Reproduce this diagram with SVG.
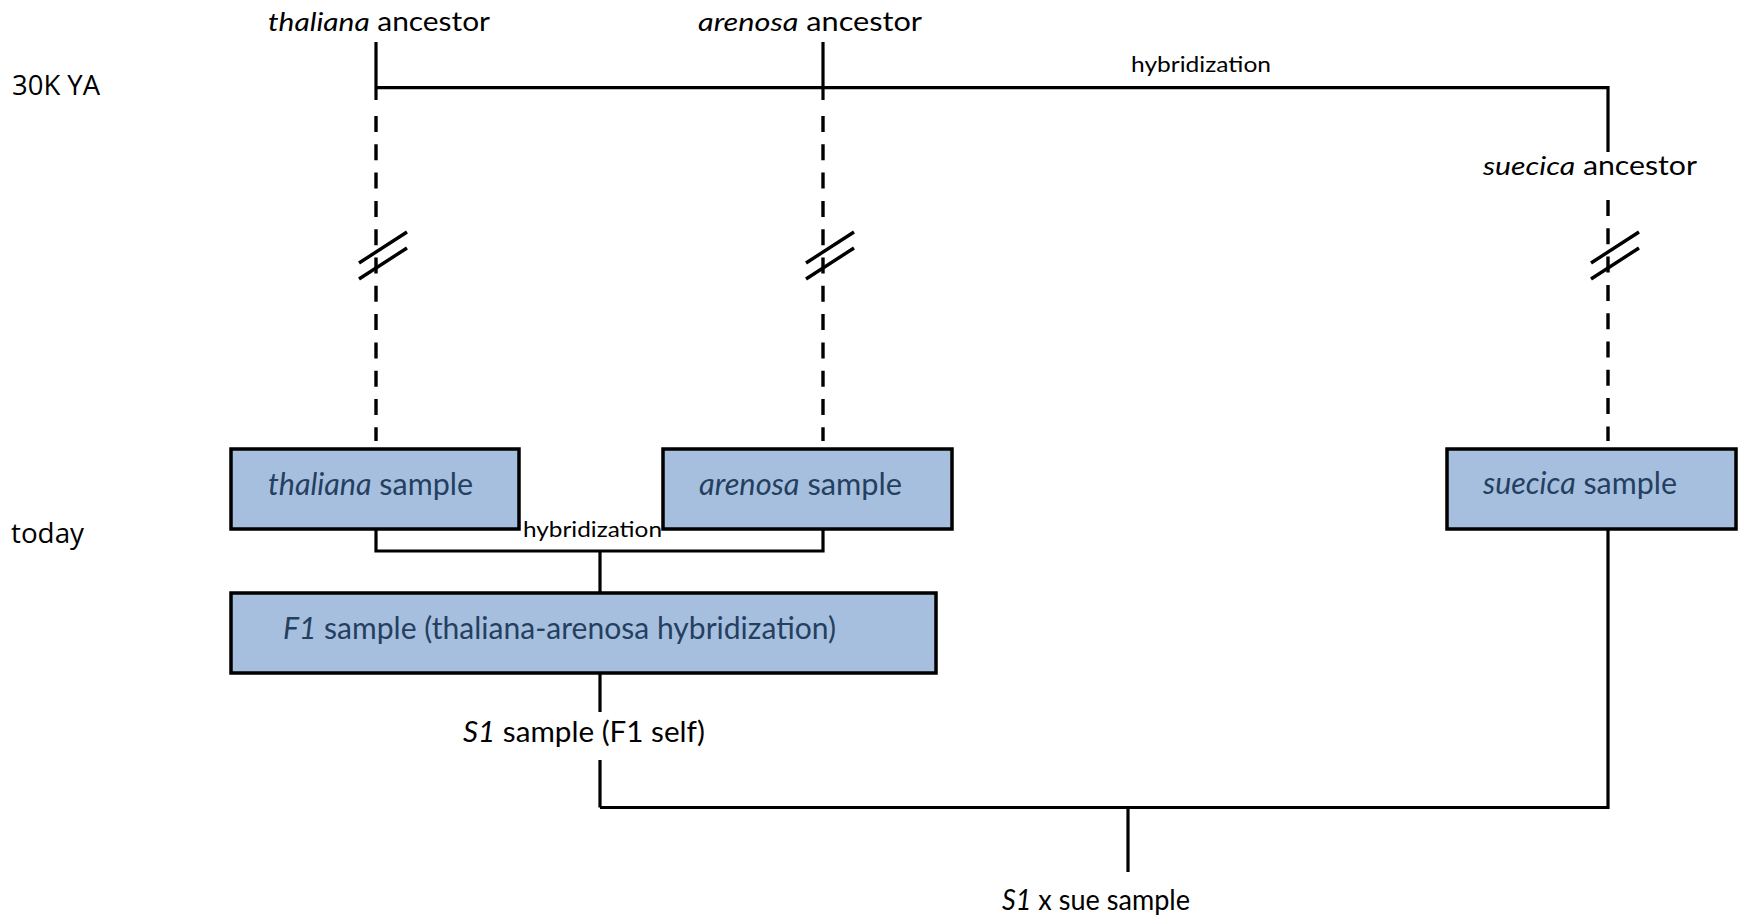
<svg xmlns="http://www.w3.org/2000/svg" width="1742" height="920" viewBox="0 0 1742 920">
  <style>
    .lbl { font-family: Lato, "Open Sans", sans-serif; fill: #000; }
    .axis { font-family: "Open Sans", Lato, sans-serif; font-size: 27px; fill: #000; }
    .anc { font-size: 26px; }
    .hyb { font-size: 21px; }
    .boxtxt { font-family: Lato, "Open Sans", sans-serif; font-size: 30px; fill: #243F60; }
    .it { font-style: italic; }
    .box { fill: #A7BFDE; stroke: #000; stroke-width: 3.5; }
    .solid { fill: none; stroke: #000; stroke-width: 3.2; }
    .dash { fill: none; stroke: #000; stroke-width: 3.4; stroke-dasharray: 16 12.3; }
    .brk { stroke: #000; stroke-width: 3.4; }
  </style>

  <!-- time axis labels -->
  <text class="axis" x="12" y="95" textLength="88" lengthAdjust="spacingAndGlyphs">30K YA</text>
  <text class="axis" x="11" y="543" textLength="73" lengthAdjust="spacingAndGlyphs">today</text>

  <!-- lineage connectors -->
  <g id="connectors">
    <!-- ancestral hybridization bar -->
    <path class="solid" d="M376,42 V100"/>
    <path class="solid" d="M823,42 V100"/>
    <path class="solid" d="M376,87.7 H1608 V152"/>
    <!-- long time spans (dashed) -->
    <path class="dash" d="M376,116 V441"/>
    <path class="dash" d="M823,116 V441"/>
    <path class="dash" d="M1608,200 V441"/>
    <!-- axis break marks -->
    <g id="breaks">
      <line class="brk" x1="359" y1="263" x2="407" y2="232"/>
      <line class="brk" x1="359" y1="279" x2="407" y2="248"/>
      <line class="brk" x1="806" y1="263" x2="854" y2="232"/>
      <line class="brk" x1="806" y1="279" x2="854" y2="248"/>
      <line class="brk" x1="1591" y1="263" x2="1639" y2="232"/>
      <line class="brk" x1="1591" y1="279" x2="1639" y2="248"/>
    </g>
    <!-- present-day crosses -->
    <path class="solid" d="M376,529 V551 H823 V529"/>
    <path class="solid" d="M600,551 V593"/>
    <path class="solid" d="M600,673 V712"/>
    <path class="solid" d="M600,760 V807.5"/>
    <path class="solid" d="M600,807.5 H1608 V529"/>
    <path class="solid" d="M1128,807.5 V872"/>
  </g>

  <!-- edge labels -->
  <text class="lbl hyb" x="1131" y="72" textLength="140" lengthAdjust="spacingAndGlyphs">hybridization</text>
  <text class="lbl hyb" x="523" y="537" textLength="139" lengthAdjust="spacingAndGlyphs">hybridization</text>

  <!-- ancestors -->
  <g id="thaliana-ancestor">
    <text class="lbl anc" x="268" y="31" textLength="222" lengthAdjust="spacingAndGlyphs"><tspan class="it">thaliana</tspan> ancestor</text>
  </g>
  <g id="arenosa-ancestor">
    <text class="lbl anc" x="698" y="31" textLength="224" lengthAdjust="spacingAndGlyphs"><tspan class="it">arenosa</tspan> ancestor</text>
  </g>
  <g id="suecica-ancestor">
    <text class="lbl anc" x="1483" y="175" textLength="214" lengthAdjust="spacingAndGlyphs"><tspan class="it">suecica</tspan> ancestor</text>
  </g>

  <!-- present-day samples -->
  <g id="thaliana-sample">
    <rect class="box" x="231" y="449" width="288" height="80"/>
    <text class="boxtxt" x="268" y="495" textLength="205" lengthAdjust="spacingAndGlyphs"><tspan class="it">thaliana</tspan> sample</text>
  </g>
  <g id="arenosa-sample">
    <rect class="box" x="663" y="449" width="289" height="80"/>
    <text class="boxtxt" x="699" y="495" textLength="203" lengthAdjust="spacingAndGlyphs"><tspan class="it">arenosa</tspan> sample</text>
  </g>
  <g id="suecica-sample">
    <rect class="box" x="1447" y="449" width="289" height="80"/>
    <text class="boxtxt" x="1483" y="494" textLength="194" lengthAdjust="spacingAndGlyphs"><tspan class="it">suecica</tspan> sample</text>
  </g>
  <g id="f1-sample">
    <rect class="box" x="231" y="593" width="705" height="80"/>
    <text class="boxtxt" x="283" y="639" textLength="553" lengthAdjust="spacingAndGlyphs"><tspan class="it">F1</tspan> sample (thaliana-arenosa hybridization)</text>
  </g>
  <g id="s1-sample">
    <text class="lbl" font-size="28" x="463" y="742" textLength="242" lengthAdjust="spacingAndGlyphs"><tspan class="it">S1</tspan> sample (F1 self)</text>
  </g>
  <g id="s1-x-sue-sample">
    <text class="lbl" font-size="28" x="1002" y="910" textLength="188" lengthAdjust="spacingAndGlyphs"><tspan class="it">S1</tspan> x sue sample</text>
  </g>
</svg>
